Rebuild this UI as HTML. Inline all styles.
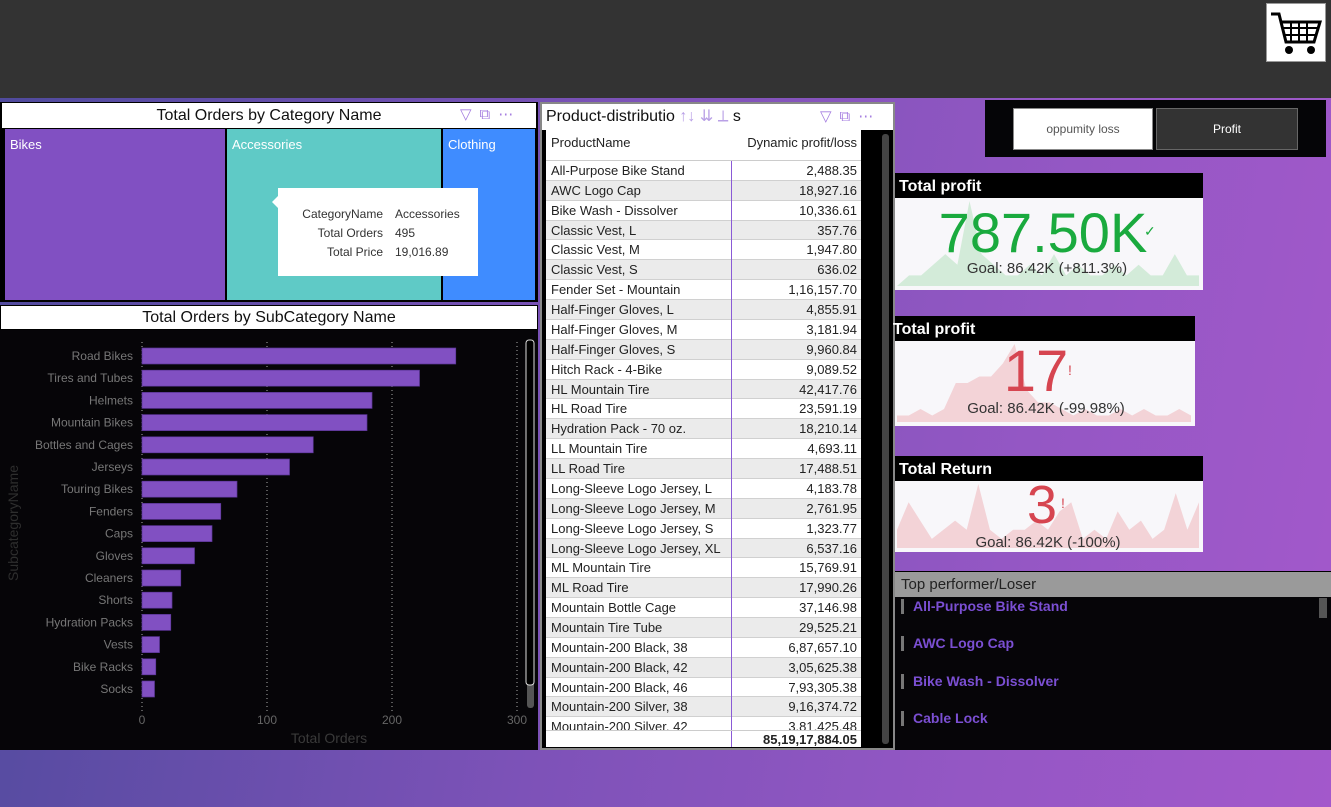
<!DOCTYPE html>
<html><head><meta charset="utf-8">
<style>
*{margin:0;padding:0;box-sizing:border-box}
body{width:1331px;height:807px;overflow:hidden;position:relative;font-family:"Liberation Sans",sans-serif;background:linear-gradient(100deg,#4e4a9c 0%,#7d52b8 45%,#9457c4 75%,#a358cb 100%)}
.abs{position:absolute}
.t{white-space:nowrap}
</style></head><body>
<div class="abs" style="left:0;top:0;width:1331px;height:98px;background:#333"></div>
<div class="abs" style="left:1266px;top:3px;width:60px;height:59px;background:#fff;border:1px solid #999">
<svg width="58" height="57" viewBox="0 0 58 57"><path d="M4 10h8l7 28h28l6-20H14" fill="none" stroke="#000" stroke-width="3"/><path d="M16 24h34M18 31h30M24 18v20M32 18v20M40 18v20" stroke="#000" stroke-width="2"/><circle cx="22" cy="46" r="4"/><circle cx="44" cy="46" r="4"/></svg></div>

<!-- Treemap -->
<div class="abs" style="left:0;top:102px;width:538px;height:200px;background:#000">
<div class="abs t" style="left:2px;top:1px;width:534px;height:25px;background:#fff;text-align:center;font-size:16px;line-height:25px;color:#111">Total Orders by Category Name</div>
<div class="abs t" style="left:460px;top:3px;font-size:15px;color:#a67fe0;letter-spacing:8px">▽⧉⋯</div>
<div class="abs" style="left:5px;top:27px;width:220px;height:171px;background:#8150c2;color:#fff;font-size:13px;padding:8px 5px">Bikes</div>
<div class="abs" style="left:227px;top:27px;width:214px;height:171px;background:#5fcac6;color:#fff;font-size:13px;padding:8px 5px">Accessories</div>
<div class="abs" style="left:443px;top:27px;width:92px;height:171px;background:#3f8cff;color:#fff;font-size:13px;padding:8px 5px">Clothing</div>
</div>
<div class="abs" style="left:278px;top:188px;width:200px;height:88px;background:#fff;font-size:12px;color:#333">
<div class="abs" style="left:-6px;top:8px;width:0;height:0;border:6px solid transparent;border-right-color:#fff;border-left:0"></div>
<div class="abs t" style="left:0;top:17px;width:105px;text-align:right;line-height:19px">CategoryName<br>Total Orders<br>Total Price</div>
<div class="abs t" style="left:117px;top:17px;line-height:19px">Accessories<br>495<br>19,016.89</div>
</div>

<!-- Subcategory bar chart -->
<div class="abs t" style="left:0;top:305px;width:538px;height:25px;background:#fff;border:1px solid #000;text-align:center;font-size:16px;line-height:24px;color:#111">Total Orders by SubCategory Name</div>
<svg class="abs" id="bars" style="left:0;top:330px" width="538" height="420" font-family="Liberation Sans, sans-serif">
<rect width="538" height="420" fill="#060508"/>
<rect x="527" y="10" width="7" height="368" rx="3" fill="#555"/><rect x="526" y="10" width="8" height="345" rx="3" fill="#000" stroke="#ddd"/>
</svg>

<!-- Table -->
<div class="abs" style="left:540px;top:102px;width:355px;height:648px;background:#000;border:2px solid #888">
<div class="abs t" style="left:0;top:0;width:351px;height:26px;background:#fff;font-size:16px;line-height:26px;padding-left:4px;color:#111">Product-distributio<span style="color:#b9a0e6"> ↑↓ ⇊ ⟂ </span>s</div>
<div class="abs t" style="left:278px;top:3px;font-size:15px;color:#a67fe0;letter-spacing:8px">▽⧉⋯</div>
<div class="abs" id="tbl" style="left:4px;top:26px;width:315px;height:617px;background:#fff;overflow:hidden;font-size:13px;color:#222"></div>
<div class="abs" style="left:340px;top:30px;width:7px;height:610px;background:#444;border-radius:3px"></div>
</div>

<!-- Slicer -->
<div class="abs" style="left:985px;top:100px;width:341px;height:57px;background:#050507">
<div class="abs t" style="left:28px;top:8px;width:140px;height:42px;background:#fff;border:1px solid #888;text-align:center;line-height:40px;font-size:12px;color:#555">oppumity loss</div>
<div class="abs t" style="left:171px;top:8px;width:142px;height:42px;background:#333;border:1px solid #666;text-align:center;line-height:40px;font-size:12px;color:#fff">Profit</div>
</div>

<!-- KPIs -->
<svg class="abs" id="kpis" style="left:0;top:0" width="1331" height="807" pointer-events="none" font-family="Liberation Sans, sans-serif"></svg>

<!-- Top performer -->
<div class="abs" style="left:895px;top:571px;width:436px;height:179px;background:#060508;border-top:1px solid #000">
<div class="abs t" style="left:0;top:0;width:436px;height:25px;background:#9a9a9a;font-size:15px;line-height:25px;padding-left:6px;color:#222">Top performer/Loser</div>
<div class="abs" style="left:424px;top:26px;width:8px;height:20px;background:#555"></div>
<div id="tp"></div>
</div>

<script>
// ---- Bar chart data ----
const subcategories=["Road Bikes","Tires and Tubes","Helmets","Mountain Bikes","Bottles and Cages","Jerseys","Touring Bikes","Fenders","Caps","Gloves","Cleaners","Shorts","Hydration Packs","Vests","Bike Racks","Socks"];
const orderValues=[251,222,184,180,137,118,76,63,56,42,31,24,23,14,11,10];
const xTicks=[0,100,200,300];
const NS="http://www.w3.org/2000/svg";
function mk(p,tag,a,txt){const e=document.createElementNS(NS,tag);for(const k in a)e.setAttribute(k,a[k]);if(txt!==undefined)e.textContent=txt;p.appendChild(e);return e;}
const bs=document.getElementById('bars');
const xS=v=>142+v*1.25;
const yS=i=>26+i*22.2;
xTicks.forEach(t=>{
  const g=mk(bs,'line',{x1:xS(t),x2:xS(t),y1:12,y2:382,stroke:'#aaa','stroke-dasharray':'1,3'});
  
  
  const l=mk(bs,'text',{x:xS(t),y:394,'text-anchor':'middle','font-size':12,fill:'#666'},t);
  
  
});
subcategories.forEach((c,i)=>{
  const r=mk(bs,'rect',{x:xS(0),y:yS(i)-8,width:xS(orderValues[i])-xS(0),height:16,fill:'#8150c2',stroke:'#5a3596','stroke-width':0.7});
  
  
  const l=mk(bs,'text',{x:133,y:yS(i)+4,'text-anchor':'end','font-size':12,fill:'#777'},c);
  
  
});
const xt=mk(bs,'text',{x:329,y:413,'text-anchor':'middle','font-size':14,fill:'#3a3a3a'},'Total Orders');


const yt=mk(bs,'text',{x:18,y:193,'text-anchor':'middle','font-size':14,fill:'#2e2e2e',transform:'rotate(-90 18 193)'},'SubcategoryName');



// ---- Table data ----
const productNames=["All-Purpose Bike Stand","AWC Logo Cap","Bike Wash - Dissolver","Classic Vest, L","Classic Vest, M","Classic Vest, S","Fender Set - Mountain","Half-Finger Gloves, L","Half-Finger Gloves, M","Half-Finger Gloves, S","Hitch Rack - 4-Bike","HL Mountain Tire","HL Road Tire","Hydration Pack - 70 oz.","LL Mountain Tire","LL Road Tire","Long-Sleeve Logo Jersey, L","Long-Sleeve Logo Jersey, M","Long-Sleeve Logo Jersey, S","Long-Sleeve Logo Jersey, XL","ML Mountain Tire","ML Road Tire","Mountain Bottle Cage","Mountain Tire Tube","Mountain-200 Black, 38","Mountain-200 Black, 42","Mountain-200 Black, 46","Mountain-200 Silver, 38","Mountain-200 Silver, 42"];
const profitValues=["2,488.35","18,927.16","10,336.61","357.76","1,947.80","636.02","1,16,157.70","4,855.91","3,181.94","9,960.84","9,089.52","42,417.76","23,591.19","18,210.14","4,693.11","17,488.51","4,183.78","2,761.95","1,323.77","6,537.16","15,769.91","17,990.26","37,146.98","29,525.21","6,87,657.10","3,05,625.38","7,93,305.38","9,16,374.72","3,81,425.48"];
const tbl=document.getElementById('tbl');
let h='<div style="position:absolute;left:0;top:0;width:315px;height:31px;border-bottom:1px solid #ccc"><span style="position:absolute;left:5px;top:5px">ProductName</span><span style="position:absolute;right:4px;top:5px">Dynamic profit/loss</span></div>';
productNames.forEach((p,i)=>{
  const top=31+i*19.87;
  h+=`<div style="position:absolute;left:0;top:${top}px;width:315px;height:19.87px;background:${i%2?'#ebebeb':'#fff'};border-bottom:1px solid #d0d0d0"><span style="position:absolute;left:5px;top:2px;white-space:nowrap">${p}</span><span style="position:absolute;right:4px;top:2px">${profitValues[i]}</span></div>`;
});
h+='<div style="position:absolute;left:185px;top:31px;width:1px;height:586px;background:#8a5ad6"></div>';
h+='<div style="position:absolute;left:0;top:600px;width:315px;height:17px;background:#fff;border-top:1px solid #ccc;font-weight:bold"><span style="position:absolute;right:4px;top:1px">85,19,17,884.05</span><div style="position:absolute;left:185px;top:0;width:1px;height:17px;background:#8a5ad6"></div></div>';
tbl.innerHTML=h;

// ---- KPI sparkline data ----
const spark1=[0,1,1,2,3,2,8,3,2,1,1,2,1,3,1,2,1,1,2,1,2,1,1,3,1,1];
const spark2=[1,1,2,1,2,6,6,7,7,9,12,5,3,3,2,1,2,1,1,2,1,2,1,1,2,1];
const spark3=[2,5,3,1,2,3,2,7,2,1,2,2,3,2,4,5,1,2,1,4,2,3,1,2,6,2,5];
const ks=document.getElementById('kpis');
function kpi(o){
  const hd=mk(ks,'rect',{x:895,y:o.y,width:o.w,height:25,fill:'#000'});
  
  
  const tt=mk(ks,'text',{x:o.tx,y:o.y+18,'font-size':16,'font-weight':'bold',fill:'#fff'},o.title);
  
  
  const bg=mk(ks,'rect',{x:895,y:o.y+25,width:o.w,height:o.h,fill:'#f8f7fa'});
  
  
  const base=o.y+25+o.h-4, top=o.y+28, x0=897, x1=895+o.w-4;
  const mx=Math.max(...o.data);
  let pts=`${x0},${base} `;
  o.data.forEach((v,i)=>{pts+=`${x0+i*(x1-x0)/(o.data.length-1)},${base-v/mx*(base-top)} `;});
  pts+=`${x1},${base}`;
  const sp=mk(ks,'polygon',{points:pts,fill:o.sc});
  
  
  const v=mk(ks,'text',{x:o.vx,y:o.vy,'text-anchor':'middle','font-size':o.fs,fill:o.vc},o.value);
  
  
  mk(ks,'text',{x:o.ix,y:o.iy,'font-size':o.ifs,fill:o.vc},o.icon);
  const g=mk(ks,'text',{x:o.gx,y:o.gy,'text-anchor':'middle','font-size':15,fill:'#333'},o.goal);
  
  
}
kpi({y:173,w:308,h:92,title:'Total profit',tx:899,data:spark1,sc:'#d3ebd9',value:'787.50K',vx:1043,vy:252,fs:56,vc:'#1aaa3e',icon:'✓',ix:1144,iy:236,ifs:14,goal:'Goal: 86.42K (+811.3%)',gx:1047,gy:273});
kpi({y:316,w:300,h:85,title:'Total profit',tx:893,data:spark2,sc:'#f3d3d7',value:'17',vx:1036,vy:391,fs:58,vc:'#d64550',icon:'!',ix:1068,iy:375,ifs:14,goal:'Goal: 86.42K (-99.98%)',gx:1046,gy:413});
kpi({y:456,w:308,h:71,title:'Total Return',tx:899,data:spark3,sc:'#f3d3d7',value:'3',vx:1042,vy:523,fs:54,vc:'#d64550',icon:'!',ix:1061,iy:508,ifs:14,goal:'Goal: 86.42K (-100%)',gx:1048,gy:547});

// ---- Top performer list ----
const performers=["All-Purpose Bike Stand","AWC Logo Cap","Bike Wash - Dissolver","Cable Lock"];
const tp=document.getElementById('tp');
performers.forEach((p,i)=>{
  const d=document.createElement('div');
  
  
  d.className='abs t';
  d.style.cssText=`left:6px;top:${27+i*37.3}px;font-size:14px;font-weight:bold;color:#7b4fd3;border-left:3px solid #777;padding-left:9px;line-height:15px`;
  d.textContent=p;
  tp.appendChild(d);
});
</script>
</body></html>
